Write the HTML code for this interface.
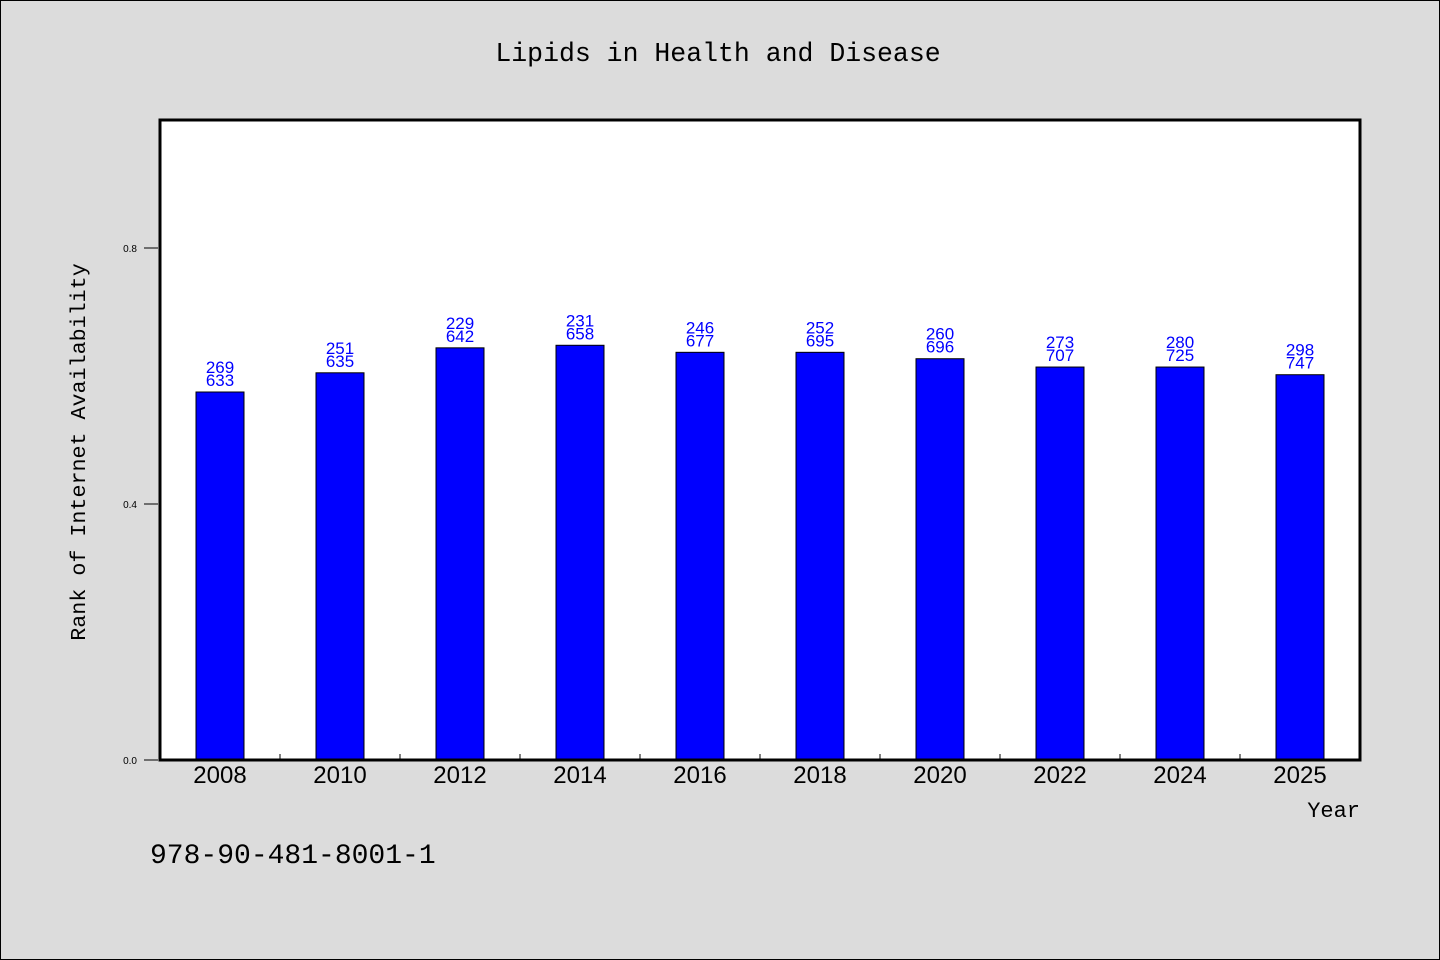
<!DOCTYPE html>
<html><head><meta charset="utf-8"><style>
body{margin:0;background:#dcdcdc;}
svg{display:block}
</style></head><body>
<svg width="1440" height="960" xmlns="http://www.w3.org/2000/svg">
<rect x="0.5" y="0.5" width="1439" height="959" fill="#dcdcdc" stroke="#000"/>
<text x="718" y="61" text-anchor="middle" font-family="Liberation Mono, monospace" font-size="26.5">Lipids in Health and Disease</text>
<rect x="160" y="120" width="1200" height="640" fill="#fff"/>
<g id="marks"></g>
<rect x="160" y="120" width="1200" height="640" fill="none" stroke="#000" stroke-width="3"/>
<text transform="translate(85,452) rotate(-90)" text-anchor="middle" font-family="Liberation Mono, monospace" font-size="21.7">Rank of Internet Availability</text>
<text x="1360" y="817" text-anchor="end" font-family="Liberation Mono, monospace" font-size="22">Year</text>
<text x="150" y="863" font-family="Liberation Mono, monospace" font-size="28">978-90-481-8001-1</text>
</svg>
<script>
const categories=["2008","2010","2012","2014","2016","2018","2020","2022","2024","2025"];
const values=[0.575,0.605,0.644,0.648,0.637,0.637,0.627,0.614,0.614,0.602];
const labelTop=["269","251","229","231","246","252","260","273","280","298"];
const labelBottom=["633","635","642","658","677","695","696","707","725","747"];
const yTicks=[0,0.4,0.8];
const NS="http://www.w3.org/2000/svg";
const g=document.getElementById('marks');
const X0=160,W=1200,Y0=760,H=640,YMAX=1.0;
const band=W/categories.length;
function xc(i){return X0+band*(i+0.5);}
function y(v){return Y0-v/YMAX*H;}
function mk(t,a){const e=document.createElementNS(NS,t);for(const k in a)e.setAttribute(k,a[k]);g.appendChild(e);return e;}
yTicks.forEach(v=>{
  const l=mk('line',{x1:X0-2,x2:X0-16,y1:y(v),y2:y(v),stroke:'#000','stroke-width':1});
  
  
  const t=mk('text',{x:X0-7-16+10-10,y:y(v)+4,'text-anchor':'end','font-family':'Liberation Sans, sans-serif','font-size':10});
  t.textContent=v.toFixed(1);
  
  
});
categories.forEach((c,i)=>{
  const cx=xc(i),top=y(values[i]);
  const r=mk('rect',{x:cx-24,y:top,width:48,height:Y0-top,fill:'#0000ff',stroke:'#000','stroke-width':1});
  
  
  const t1=mk('text',{x:cx,y:top-19,'text-anchor':'middle','font-family':'Liberation Sans, sans-serif','font-size':17,fill:'#0000ff'});
  t1.textContent=labelTop[i];
  
  
  const t2=mk('text',{x:cx,y:top-6,'text-anchor':'middle','font-family':'Liberation Sans, sans-serif','font-size':17,fill:'#0000ff'});
  t2.textContent=labelBottom[i];
  
  
  const xl=mk('text',{x:cx,y:Y0+23,'text-anchor':'middle','font-family':'Liberation Sans, sans-serif','font-size':24});
  xl.textContent=c;
  
  
  if(i>0){
    const bx=X0+band*i;
    const tk=mk('line',{x1:bx,x2:bx,y1:Y0,y2:Y0-6,stroke:'#000','stroke-width':1});
    
    
  }
});
</script>
</body></html>
